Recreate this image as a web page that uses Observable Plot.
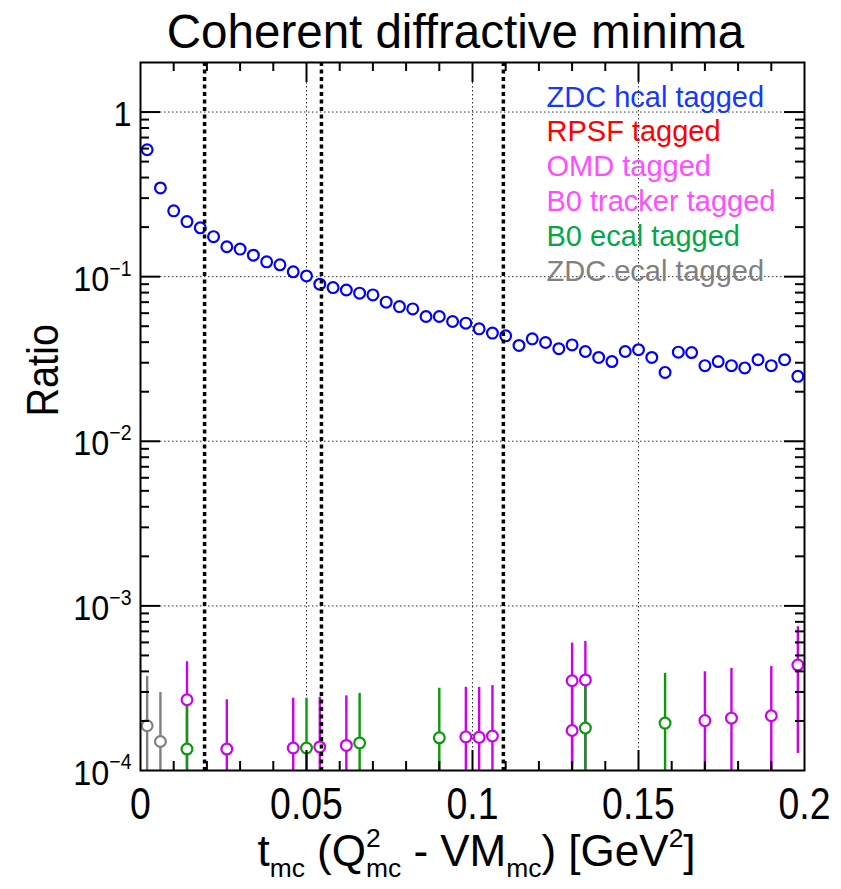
<!DOCTYPE html>
<html>
<head>
<meta charset="utf-8">
<script src="https://cdn.jsdelivr.net/npm/d3@7"></script>
<script src="https://cdn.jsdelivr.net/npm/@observablehq/plot@0.6"></script>
<style>
  html, body { margin: 0; padding: 0; background: #fff; }
</style>
</head>
<body>
<div id="chart"></div>
<script>
// ---------------- data ----------------
const tCenters = [0.002,0.006,0.010,0.014,0.018,0.022,0.026,0.030,0.034,0.038,
                  0.042,0.046,0.050,0.054,0.058,0.062,0.066,0.070,0.074,0.078,
                  0.082,0.086,0.090,0.094,0.098,0.102,0.106,0.110,0.114,0.118,
                  0.122,0.126,0.130,0.134,0.138,0.142,0.146,0.150,0.154,0.158,
                  0.162,0.166,0.170,0.174,0.178,0.182,0.186,0.190,0.194,0.198];
const zdcHcalRatio = [0.59,0.346,0.251,0.216,0.198,0.175,0.152,0.147,0.135,0.123,
                      0.118,0.107,0.101,0.090,0.0858,0.083,0.0794,0.0775,0.070,0.0658,
                      0.0637,0.0573,0.0573,0.0534,0.0522,0.0482,0.0454,0.0437,0.0382,0.0419,
                      0.0398,0.0365,0.0385,0.0351,0.0323,0.0305,0.0351,0.0360,0.0323,0.0262,
                      0.0348,0.0346,0.0288,0.0305,0.0288,0.0279,0.0313,0.0288,0.0313,0.0248];

const rpsfT = [], rpsfV = [], rpsfE = [];

const omdT = [0.130];
const omdV = [1.75e-4];
const omdE = [1.76e-4];

const b0TrackerT = [0.014,0.026,0.046,0.054,0.062,0.098,0.102,0.106,0.130,0.134,0.170,0.178,0.190,0.198];
const b0TrackerV = [2.69e-4,1.35e-4,1.37e-4,1.39e-4,1.42e-4,1.60e-4,1.59e-4,1.62e-4,3.51e-4,3.55e-4,2.01e-4,2.08e-4,2.15e-4,4.37e-4];
const b0TrackerE = [1.89e-4,1.34e-4,1.38e-4,1.40e-4,1.42e-4,1.60e-4,1.61e-4,1.66e-4,2.43e-4,2.53e-4,1.97e-4,2.09e-4,2.14e-4,3.10e-4];

const b0EcalT = [0.014,0.050,0.066,0.090,0.134,0.158];
const b0EcalV = [1.35e-4,1.37e-4,1.47e-4,1.58e-4,1.81e-4,1.94e-4];
const b0EcalE = [1.34e-4,1.38e-4,1.47e-4,1.58e-4,1.74e-4,1.95e-4];

const zdcEcalT = [0.002,0.006];
const zdcEcalV = [1.87e-4,1.50e-4];
const zdcEcalE = [1.86e-4,1.48e-4];

const minimaT = [0.0193, 0.0545, 0.1093];

const xTickVals = [0, 0.05, 0.1, 0.15, 0.2];
const xTickLabels = ["0", "0.05", "0.1", "0.15", "0.2"];
const xMinorTicks = [0.01,0.02,0.03,0.04,0.06,0.07,0.08,0.09,0.11,0.12,0.13,0.14,0.16,0.17,0.18,0.19];
const xMajorTicks = [0.05, 0.1, 0.15];
const yTickVals = [1e-4, 1e-3, 1e-2, 1e-1, 1];
const yTickLabels = ["10^{\u22124}", "10^{\u22123}", "10^{\u22122}", "10^{\u22121}", "1"];
const yMajorTicks = [1e-3, 1e-2, 1e-1, 1];
const yMinorTicks = [];
for (const k of [-4, -3, -2, -1]) for (const m of [2,3,4,5,6,7,8,9]) yMinorTicks.push(m * Math.pow(10, k));

const titleText = "Coherent diffractive minima";
const xTitle = "t_{mc} (Q^{2}_{mc} - VM_{mc}) [GeV^{2}]";
const yTitle = "Ratio";

const legendLabels = ["ZDC hcal tagged", "RPSF tagged", "OMD tagged", "B0 tracker tagged", "B0 ecal tagged", "ZDC ecal tagged"];
const legendColors = ["#1438ff", "#ff0000", "#ff4dff", "#ff4dff", "#00a846", "#808080"];

// ---------------- build ----------------
const W = 841, H = 889;
const mT = 62, mB = 119, mL = 140, mR = 37;
const FW = W - mL - mR, FH = H - mT - mB;

const rows = (T, V, E) => T.map((t, i) => ({t, v: V[i], e: E[i]}));
const blue = tCenters.map((t, i) => ({t, v: zdcHcalRatio[i]}));
const series = [
  {data: rows(rpsfT, rpsfV, rpsfE), color: "#ff0000"},
  {data: rows(omdT, omdV, omdE), color: "#cc00ee"},
  {data: rows(b0TrackerT, b0TrackerV, b0TrackerE), color: "#cc00ee"},
  {data: rows(b0EcalT, b0EcalV, b0EcalE), color: "#0a9a0a"},
  {data: rows(zdcEcalT, zdcEcalV, zdcEcalE), color: "#808080"}
];
const yMin = 1e-4, yMax = 2;

const bars = series.map(s => Plot.ruleX(s.data, {
  x: "t", y1: d => Math.max(d.v - d.e, yMin), y2: d => Math.min(d.v + d.e, yMax),
  stroke: s.color, strokeWidth: 2.4
}));
const dots = series.map(s => Plot.dot(s.data, {
  x: "t", y: "v", r: 5.4, stroke: s.color, strokeWidth: 2.2, fill: "white"
}));

const legendMarks = legendLabels.map((lab, i) => Plot.text([lab], {
  frameAnchor: "top-left", dx: 406, dy: 44 + i * 34.8, text: d => d,
  textAnchor: "start", lineAnchor: "bottom", fill: legendColors[i], fontSize: 29
}));

const chart = Plot.plot({
  width: W, height: H,
  marginTop: mT, marginBottom: mB, marginLeft: mL, marginRight: mR,
  x: {domain: [0, 0.2], axis: null},
  y: {type: "log", domain: [yMin, yMax], axis: null},
  style: {fontFamily: "'Liberation Sans', Arial, Helvetica, sans-serif", background: "white", overflow: "visible"},
  marks: [
    // grid
    Plot.ruleX(xMajorTicks, {stroke: "#333", strokeWidth: 1, strokeDasharray: "1.5,2.5"}),
    Plot.ruleY(yMajorTicks, {stroke: "#333", strokeWidth: 1, strokeDasharray: "1.5,2.5"}),
    // tagged series error bars + markers
    ...bars,
    Plot.dot(blue, {x: "t", y: "v", r: 5.4, stroke: "#0000ff", strokeWidth: 2.2, fill: "white"}),
    ...dots,
    // minima lines
    Plot.ruleX(minimaT, {stroke: "black", strokeWidth: 3.5, strokeDasharray: "4,3.5"}),
    // frame and inward ticks
    Plot.frame({stroke: "black", strokeWidth: 2}),
    Plot.ruleX(xMajorTicks, {insetTop: FH - 20, stroke: "black", strokeWidth: 2}),
    Plot.ruleX(xMinorTicks, {insetTop: FH - 9, stroke: "black", strokeWidth: 2}),
    Plot.ruleX(xMajorTicks, {insetBottom: FH - 20, stroke: "black", strokeWidth: 2}),
    Plot.ruleX(xMinorTicks, {insetBottom: FH - 9, stroke: "black", strokeWidth: 2}),
    Plot.ruleY(yMajorTicks, {insetRight: FW - 20, stroke: "black", strokeWidth: 2}),
    Plot.ruleY(yMinorTicks, {insetRight: FW - 9, stroke: "black", strokeWidth: 2}),
    Plot.ruleY(yMajorTicks, {insetLeft: FW - 20, stroke: "black", strokeWidth: 2}),
    Plot.ruleY(yMinorTicks, {insetLeft: FW - 9, stroke: "black", strokeWidth: 2}),
    // tick labels
    Plot.text(xTickVals, {x: d => d, text: (d, i) => xTickLabels[i], frameAnchor: "bottom",
      dy: 48, lineAnchor: "bottom", textAnchor: "middle", fontSize: 44, fill: "black"}),
    Plot.text(yTickVals, {y: d => d, text: (d, i) => yTickLabels[i], frameAnchor: "left",
      dx: -9, dy: 14, lineAnchor: "bottom", textAnchor: "end", fontSize: 36, fill: "black"}),
    // titles
    Plot.text([titleText], {frameAnchor: "top", text: d => d, dx: -17, dy: -15, lineAnchor: "bottom", fontSize: 48, fill: "black"}),
    Plot.text([xTitle], {frameAnchor: "bottom", text: d => d, dx: 4, dy: 95, lineAnchor: "bottom", fontSize: 44, fill: "black"}),
    Plot.text([yTitle], {frameAnchor: "left", text: d => d, dx: -83, rotate: -90, lineAnchor: "bottom", fontSize: 44, fill: "black"}),
    ...legendMarks
  ]
});

document.getElementById("chart").appendChild(chart);

// ---------------- text post-processing (condensing + super/subscripts) ----------------
const condense = new Map();
condense.set(titleText, 0.99);
condense.set(yTitle, 0.9);
condense.set(xTitle, 1.0);
xTickLabels.forEach(l => condense.set(l, 0.85));
yTickLabels.forEach(l => condense.set(l, 0.9));

function richify(el, src) {
  const fs = parseFloat(getComputedStyle(el).fontSize) || 40;
  el.textContent = "";
  const toks = src.match(/\^\{[^}]*\}|_\{[^}]*\}|[^^_]+/g) || [];
  let shift = 0, lastSup = null, prevType = null;
  for (const tok of toks) {
    const ts = document.createElementNS("http://www.w3.org/2000/svg", "tspan");
    let type = "n", txt = tok, target = 0, size = fs;
    if (tok.startsWith("^{")) { type = "sup"; txt = tok.slice(2, -1); target = -0.42 * fs; size = 0.6 * fs; }
    else if (tok.startsWith("_{")) { type = "sub"; txt = tok.slice(2, -1); target = 0.25 * fs; size = 0.6 * fs; }
    ts.textContent = txt;
    ts.setAttribute("font-size", size);
    const d = target - shift;
    if (d !== 0) ts.setAttribute("dy", d);
    el.appendChild(ts);
    if (type === "sub" && prevType === "sup" && lastSup) {
      ts.setAttribute("dx", -lastSup.getComputedTextLength());
    }
    if (type === "sup") lastSup = ts;
    shift = target; prevType = type;
  }
}

d3.select(chart).selectAll("text").each(function() {
  const s = this.textContent;
  if (condense.has(s)) {
    const k = condense.get(s);
    if (k !== 1) {
      const tr = this.getAttribute("transform") || "";
      this.setAttribute("transform", (tr + ` scale(${k},1)`).trim());
    }
  }
  if (/[\^_]\{/.test(s)) richify(this, s);
});
</script>
</body>
</html>
